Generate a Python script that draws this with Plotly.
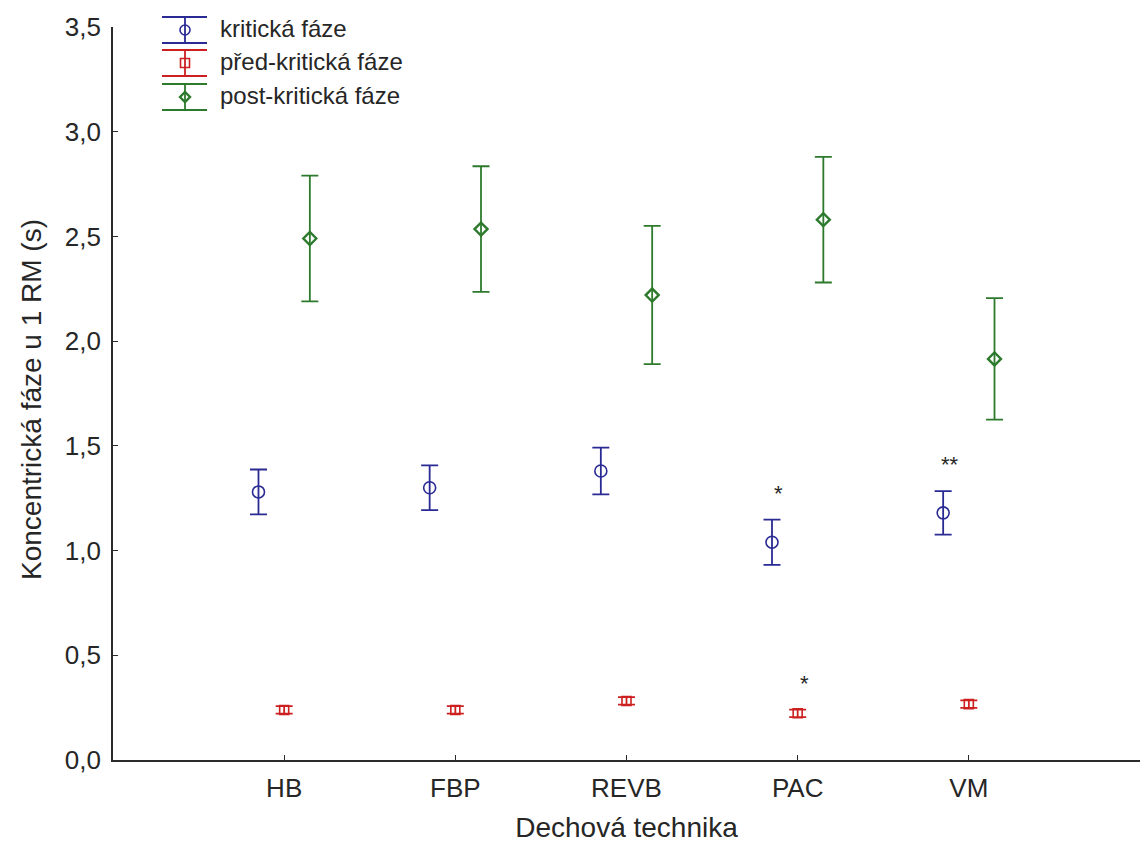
import plotly.graph_objects as go
import numpy as np

# Breathing techniques on the x axis
categories = ["HB", "FBP", "REVB", "PAC", "VM"]

# Mean duration (s) and error half-widths for each phase
kriticka = [1.28, 1.30, 1.38, 1.04, 1.18]
kriticka_err = [0.107, 0.107, 0.112, 0.108, 0.104]

pred_kriticka = [0.239, 0.239, 0.282, 0.223, 0.267]
pred_kriticka_err = [0.018, 0.018, 0.018, 0.018, 0.018]

post_kriticka = [2.49, 2.535, 2.22, 2.58, 1.915]
post_kriticka_err = [0.30, 0.30, 0.33, 0.30, 0.29]

series_names = ["kritická fáze", "před-kritická fáze", "post-kritická fáze"]

# Significance marks: (category index, series index, text)
significance = [(3, 0, "*"), (4, 0, "**"), (3, 1, "*")]

W, H = 1143, 843
ML, MR, MT, MB = 113, 3, 27, 83
PW, PH = W - ML - MR, H - MT - MB

BLUE = "#2a2a94"
RED = "#cc2020"
GREEN = "#2d7a2d"
TXT = "#262626"
AX = "#2b2b2b"
FONT = "Liberation Sans, Arial, sans-serif"

pos = np.arange(1, len(categories) + 1)
offsets = [-0.15, 0.0, 0.15]

series = [
    (kriticka, kriticka_err, BLUE, "circle-open", 12, 1.6),
    (pred_kriticka, pred_kriticka_err, RED, "square-open", 9, 1.6),
    (post_kriticka, post_kriticka_err, GREEN, "diamond-open", 10, 2.4),
]

fig = go.Figure()
for (vals, errs, col, sym, size, lw), off, name in zip(series, offsets, series_names):
    fig.add_trace(go.Scatter(
        x=pos + off, y=vals, mode="markers", name=name,
        marker=dict(symbol=sym, size=size, color=col, line=dict(color=col, width=lw)),
        error_y=dict(type="data", array=errs, visible=True, color=col,
                     thickness=1.8, width=8.5),
        cliponaxis=False,
    ))

# Significance asterisks above the error bars
for ci, si, txt in significance:
    vals, errs = series[si][0], series[si][1]
    fig.add_annotation(
        x=pos[ci] + offsets[si], y=vals[ci] + errs[ci], text=txt,
        xref="x", yref="y", showarrow=False, xanchor="center", yanchor="bottom",
        xshift=7, yshift=12, font=dict(family=FONT, size=22, color=TXT),
    )

# Legend drawn as error-bar glyphs in the top-left corner
def px_x(p):
    return (p - ML) / PW

def px_y(p):
    return (H - MB - p) / PH

shapes = []
legend_rows = [30, 63, 97]
gx0, gx1, gxc = 162, 207, 185
for (vals, errs, col, sym, size, lw), cy, name in zip(series, legend_rows, series_names):
    for yy in (cy - 13, cy + 13):
        shapes.append(dict(type="line", xref="paper", yref="paper",
                           x0=px_x(gx0), x1=px_x(gx1), y0=px_y(yy), y1=px_y(yy),
                           line=dict(color=col, width=1.8)))
    shapes.append(dict(type="line", xref="paper", yref="paper",
                       x0=px_x(gxc), x1=px_x(gxc), y0=px_y(cy - 13), y1=px_y(cy + 13),
                       line=dict(color=col, width=1.8)))
    common = dict(xref="paper", yref="paper", xsizemode="pixel", ysizemode="pixel",
                  xanchor=px_x(gxc), yanchor=px_y(cy), line=dict(color=col, width=lw))
    if sym.startswith("circle"):
        shapes.append(dict(type="circle", x0=-5, x1=5, y0=-5, y1=5, **common))
    elif sym.startswith("square"):
        shapes.append(dict(type="rect", x0=-4.5, x1=4.5, y0=-4.5, y1=4.5, **common))
    else:
        shapes.append(dict(type="path", path="M -5 0 L 0 5 L 5 0 L 0 -5 Z", **common))
    fig.add_annotation(x=px_x(218), y=px_y(cy - 1), xref="paper", yref="paper",
                       text=name, showarrow=False, xanchor="left", yanchor="middle",
                       font=dict(family=FONT, size=24, color=TXT))

# Y axis title
fig.add_annotation(x=px_x(31), y=px_y(400), xref="paper", yref="paper",
                   text="Koncentrická fáze u 1 RM (s)", textangle=-90, showarrow=False,
                   xanchor="center", yanchor="middle",
                   font=dict(family=FONT, size=28, color=TXT))

fig.update_layout(
    width=W, height=H,
    margin=dict(l=ML, r=MR, t=MT, b=MB),
    plot_bgcolor="white", paper_bgcolor="white",
    showlegend=False, separators=", ",
    font=dict(family=FONT, size=26, color=TXT),
    shapes=shapes,
)
fig.update_xaxes(
    range=[0, 6], tickvals=pos, ticktext=categories,
    ticks="inside", ticklen=5, tickcolor=AX, tickwidth=1.3,
    showline=True, linecolor=AX, linewidth=1.6,
    showgrid=False, zeroline=False, ticklabelstandoff=4, automargin=False,
    tickfont=dict(family=FONT, size=26, color=TXT),
    title=dict(text="Dechová technika", font=dict(family=FONT, size=28, color=TXT), standoff=18),
)
fig.update_yaxes(
    range=[0, 3.5], dtick=0.5, tick0=0, tickformat=".1f",
    ticks="inside", ticklen=5, tickcolor=AX, tickwidth=1.3,
    showline=True, linecolor=AX, linewidth=1.6,
    showgrid=False, zeroline=False, ticklabelstandoff=5, automargin=False,
    tickfont=dict(family=FONT, size=26, color=TXT),
)

fig.write_html("out.html")
